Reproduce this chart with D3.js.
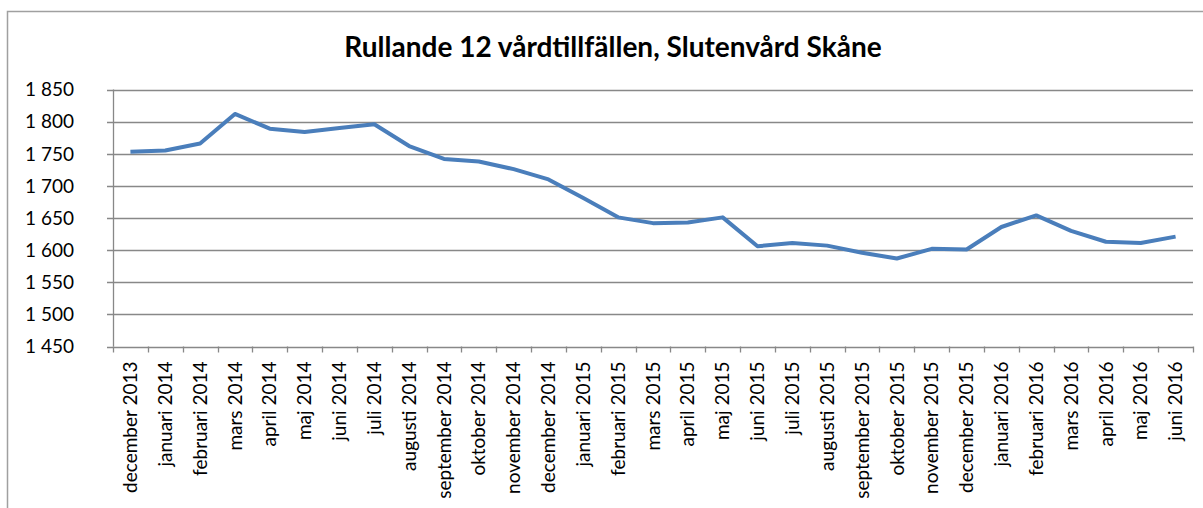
<!DOCTYPE html>
<html>
<head>
<meta charset="utf-8">
<script src="https://cdn.jsdelivr.net/npm/d3@7"></script>
<style>
  body { margin: 0; background: #fff; }
  svg { display: block; font-family: Lato, "Open Sans", sans-serif; }
</style>
</head>
<body>
<div id="chart"></div>
<script>
// monthly values
var months = ["december 2013", "januari 2014", "februari 2014", "mars 2014", "april 2014",
  "maj 2014", "juni 2014", "juli 2014", "augusti 2014", "september 2014", "oktober 2014",
  "november 2014", "december 2014", "januari 2015", "februari 2015", "mars 2015",
  "april 2015", "maj 2015", "juni 2015", "juli 2015", "augusti 2015", "september 2015",
  "oktober 2015", "november 2015", "december 2015", "januari 2016", "februari 2016",
  "mars 2016", "april 2016", "maj 2016", "juni 2016"];
var values = [1753, 1755, 1766, 1812, 1789, 1784, 1790, 1796, 1762, 1742, 1738,
  1726, 1710, 1681, 1651, 1642, 1643, 1651, 1606, 1611, 1607, 1596,
  1587, 1602, 1601, 1636, 1654, 1630, 1613, 1611, 1621];
var yTicks = [1450, 1500, 1550, 1600, 1650, 1700, 1750, 1800, 1850];
var title = "Rullande 12 vårdtillfällen, Slutenvård Skåne";

var width = 1203, height = 508;

var svg = d3.select("#chart").append("svg")
  .attr("width", width)
  .attr("height", height);

// outer chart frame (runs off the right and bottom edge)
svg.append("rect")
  .attr("x", 7.5).attr("y", 11.5)
  .attr("width", 1210).attr("height", 520)
  .attr("fill", "none")
  .attr("stroke", "#a0a0a0")
  .attr("stroke-width", 1.5);

svg.append("text")
  .attr("x", 613)
  .attr("y", 57)
  .attr("text-anchor", "middle")
  .style("font-size", "28px")
  .style("font-weight", "bold")
  .attr("fill", "#000")
  .text(title);

var x = d3.scaleBand()
  .domain(months)
  .range([113, 1193])
  .padding(0);

var y = d3.scaleLinear()
  .domain([1450, 1850])
  .range([346.5, 89.5]);

// "1 850" style with a space as thousands separator
var fmt = function(d) { return d3.format(",")(d).replace(",", " "); };

// gridlines
svg.append("g")
  .selectAll("line")
  .data(yTicks)
  .enter()
  .append("line")
    .attr("x1", 107)
    .attr("x2", 1193)
    .attr("y1", function(d) { return Math.round(y(d)) + 0.5; })
    .attr("y2", function(d) { return Math.round(y(d)) + 0.5; })
    .attr("stroke", "#888")
    .attr("stroke-width", 1.3);

// y labels
svg.append("g")
  .selectAll("text")
  .data(yTicks)
  .enter()
  .append("text")
    .attr("x", 74)
    .attr("y", function(d) { return y(d); })
    .attr("dy", "0.36em")
    .attr("text-anchor", "end")
    .style("font-size", "19px")
    .attr("fill", "#000")
    .text(fmt);

// y axis line
svg.append("line")
  .attr("x1", 113.5).attr("x2", 113.5)
  .attr("y1", y(1850)).attr("y2", y(1450))
  .attr("stroke", "#888")
  .attr("stroke-width", 1.3);

// x tick marks at category boundaries
var bounds = months.map(function(m) { return x(m); }).concat([x.range()[1]]);
svg.append("g")
  .selectAll("line")
  .data(bounds)
  .enter()
  .append("line")
    .attr("x1", function(d) { return Math.round(d) + 0.5; })
    .attr("x2", function(d) { return Math.round(d) + 0.5; })
    .attr("y1", y(1450))
    .attr("y2", y(1450) + 6)
    .attr("stroke", "#888")
    .attr("stroke-width", 1.3);

// x labels, rotated
svg.append("g")
  .attr("transform", "translate(0," + y(1450) + ")")
  .call(d3.axisBottom(x).tickSize(0).tickPadding(0))
  .call(function(g) { g.select(".domain").remove(); })
  .selectAll("text")
    .style("font-size", "19px")
    .style("font-family", "Lato, 'Open Sans', sans-serif")
    .attr("fill", "#000")
    .attr("transform", "rotate(-90)")
    .attr("text-anchor", "end")
    .attr("x", -15)
    .attr("y", 0)
    .attr("dy", "0.35em");

// the line
var line = d3.line()
  .x(function(d, i) { return x(months[i]) + x.bandwidth() / 2; })
  .y(function(d) { return y(d); });

svg.append("path")
  .datum(values)
  .attr("d", line)
  .attr("fill", "none")
  .attr("stroke", "#4a7ebb")
  .attr("stroke-width", 4)
  .attr("stroke-linejoin", "round");
</script>
</body>
</html>
